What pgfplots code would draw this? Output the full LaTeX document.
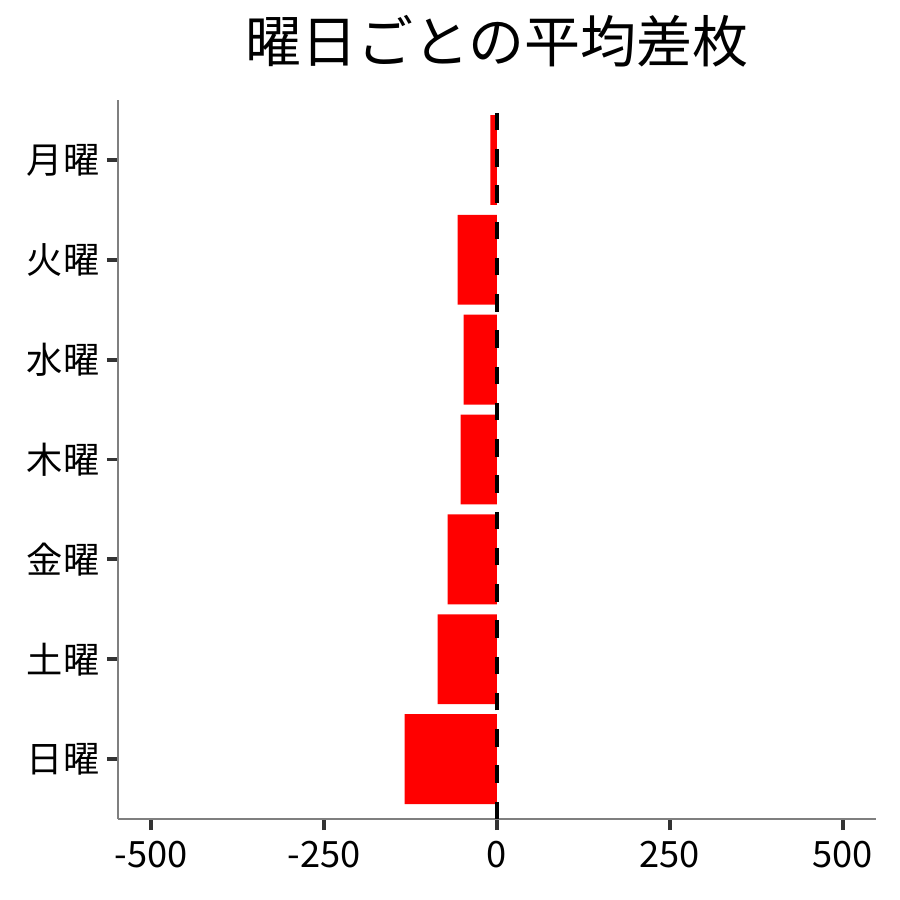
\documentclass[border=0pt]{standalone}
\usepackage{fontspec}
\setmainfont{Noto Sans CJK JP}
\usepackage{pgfplots}
\pgfplotsset{compat=1.18}
\definecolor{barred}{HTML}{FF0000}
\definecolor{tickgray}{HTML}{333333}
\definecolor{axgray}{HTML}{7F7F7F}

\pgfplotstableread{
y val
7 -9.4
6 -57
5 -48.4
4 -52.7
3 -71.5
2 -86
1 -133.7
}\youbi

\begin{document}
\begin{tikzpicture}
  \begin{axis}[
      at={(0,0)}, anchor=south west,
      scale only axis,
      width=303.2pt, height=287.6pt,
      xmin=-548, xmax=548,
      ymin=0.4, ymax=7.6,
      xbar, bar width=0.9, bar shift=0pt,
      axis lines*=left,
      axis line style={-, axgray, line width=0.7pt},
      xtick={-500,-250,0,250,500},
      xticklabels={-500,-250,0,250,500},
      ytick={1,2,3,4,5,6,7},
      yticklabels={日曜,土曜,金曜,木曜,水曜,火曜,月曜},
      tick align=outside,
      major tick length=4.4pt,
      tick style={tickgray, line width=1.5pt},
      ticklabel style={font=\fontsize{14.5}{16}\selectfont, black},
      yticklabel style={xshift=0.5pt},
      xticklabel style={yshift=-1pt},
      title={曜日ごとの平均差枚},
      title style={font=\fontsize{22.4}{26}\selectfont, anchor=center,
                   at={(rel axis cs:0.5,1)}, yshift=17.5pt},
      clip=false,
    ]
    \addplot[fill=barred, draw=none] table[x=val, y=y] {\youbi};
    \draw[black, line width=1.9pt, dash pattern=on 7pt off 7.5pt]
      (axis cs:0,0.4) -- (axis cs:0,7.6);
  \end{axis}
  \pgfresetboundingbox
  \path (-47.2pt,-32.4pt) rectangle (312.8pt,327.6pt);
\end{tikzpicture}
\end{document}
